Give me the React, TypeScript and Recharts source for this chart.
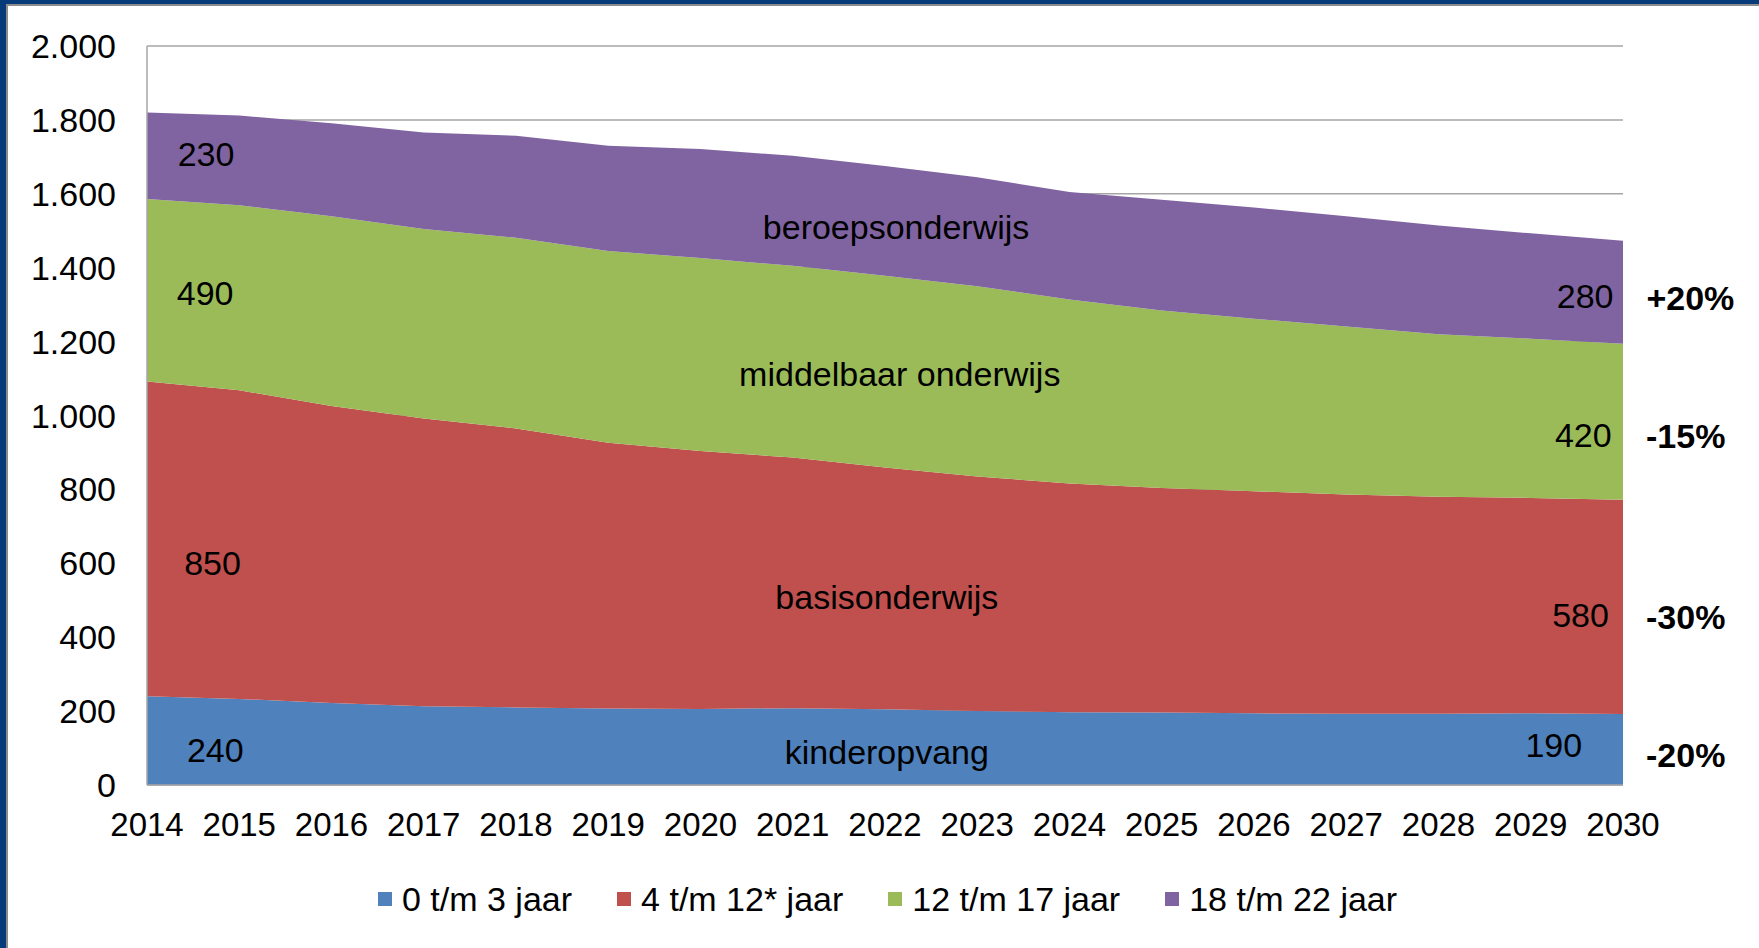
import React from 'react';
import { AreaChart, Area, XAxis, YAxis, CartesianGrid, ReferenceDot } from 'recharts';

const years = [2014, 2015, 2016, 2017, 2018, 2019, 2020, 2021, 2022, 2023, 2024, 2025, 2026, 2027, 2028, 2029, 2030];
const age0to3 = [240, 233, 222, 213, 210, 207, 206, 208, 205, 200, 197, 196, 194, 193, 193, 194, 192];
const age4to12 = [852, 835, 804, 779, 755, 719, 698, 678, 654, 635, 619, 608, 601, 593, 587, 583, 580];
const age12to17 = [494, 501, 513, 513, 516, 519, 522, 519, 519, 515, 498, 480, 467, 455, 440, 431, 422];
const age18to22 = [234, 243, 252, 261, 276, 285, 295, 298, 297, 295, 291, 300, 301, 298, 294, 285, 279];

const seriesKeys = ['a', 'b', 'c', 'd'];
const seriesNames = ['0 t/m 3 jaar', '4 t/m 12* jaar', '12 t/m 17 jaar', '18 t/m 22 jaar'];
const seriesColors = ['#4f81bd', '#c0504d', '#9bbb59', '#8064a2'];

const yTicks = [0, 200, 400, 600, 800, 1000, 1200, 1400, 1600, 1800, 2000];

// annotation anchors in data units (year, stacked value)
const valueLabels = [
  { text: '230', year: 2014.64, value: 1709 },
  { text: '490', year: 2014.63, value: 1332 },
  { text: '850', year: 2014.71, value: 601 },
  { text: '240', year: 2014.74, value: 94 },
  { text: '280', year: 2029.59, value: 1323 },
  { text: '420', year: 2029.57, value: 947 },
  { text: '580', year: 2029.54, value: 461 },
  { text: '190', year: 2029.25, value: 109 },
];
const sectorLabels = [
  { text: 'beroepsonderwijs', year: 2022.12, value: 1511 },
  { text: 'middelbaar onderwijs', year: 2022.16, value: 1111 },
  { text: 'basisonderwijs', year: 2022.02, value: 510 },
  { text: 'kinderopvang', year: 2022.02, value: 88 },
];
const changeLabels = [
  { text: '+20%', year: 2030.73, value: 1317 },
  { text: '-15%', year: 2030.68, value: 944 },
  { text: '-30%', year: 2030.68, value: 455 },
  { text: '-20%', year: 2030.68, value: 82 },
];

const FONT = '"Liberation Sans", Arial, Helvetica, sans-serif';

const data = years.map((y, i) => ({
  year: y,
  a: age0to3[i],
  b: age4to12[i],
  c: age12to17[i],
  d: age18to22[i],
}));

const fmt = (v: number) => {
  const s = String(v);
  if (s.length > 3) return s.slice(0, s.length - 3) + '.' + s.slice(s.length - 3);
  return s;
};

const textShape = (text: string, bold = false, size = 34) => (p: any) => (
  <text
    x={p.cx}
    y={p.cy}
    textAnchor="middle"
    dominantBaseline="central"
    fontFamily={FONT}
    fontSize={size}
    fontWeight={bold ? 'bold' : 'normal'}
    fill="#000"
  >
    {text}
  </text>
);

export default function App() {
  return (
    <div style={{ position: 'absolute', left: 0, top: 0, width: 1759, height: 948, background: '#fff', overflow: 'hidden' }}>
      <AreaChart
        width={1759}
        height={948}
        data={data}
        margin={{ top: 46, right: 136, bottom: 0, left: 0 }}
      >
        <CartesianGrid vertical={false} stroke="#a6a6a6" strokeWidth={1.5} />
        <XAxis
          dataKey="year"
          type="number"
          domain={[2014, 2030]}
          ticks={years}
          interval={0}
          height={163}
          tickSize={0}
          tickMargin={28}
          axisLine={{ stroke: '#a6a6a6', strokeWidth: 1.5 }}
          tickLine={false}
          tick={{ fontSize: 33, fill: '#000', fontFamily: FONT }}
        />
        <YAxis
          type="number"
          domain={[0, 2000]}
          ticks={yTicks}
          interval={0}
          width={147}
          tickSize={0}
          tickMargin={31}
          axisLine={{ stroke: '#a6a6a6', strokeWidth: 1.5 }}
          tickLine={false}
          tickFormatter={fmt}
          tick={{ fontSize: 34, fill: '#000', fontFamily: FONT }}
        />
        {seriesKeys.map((k, i) => (
          <Area
            key={k}
            type="linear"
            dataKey={k}
            stackId="1"
            name={seriesNames[i]}
            stroke="none"
            fill={seriesColors[i]}
            fillOpacity={1}
            isAnimationActive={false}
            dot={false}
            activeDot={false}
          />
        ))}
        {valueLabels.map((l) => (
          <ReferenceDot key={'v' + l.text + l.year} x={l.year} y={l.value} r={0} ifOverflow="visible" shape={textShape(l.text)} />
        ))}
        {sectorLabels.map((l) => (
          <ReferenceDot key={'s' + l.text} x={l.year} y={l.value} r={0} ifOverflow="visible" shape={textShape(l.text)} />
        ))}
        {changeLabels.map((l) => (
          <ReferenceDot key={'c' + l.text} x={l.year} y={l.value} r={0} ifOverflow="visible" shape={textShape(l.text, true)} />
        ))}
      </AreaChart>
      <div
        style={{
          position: 'absolute',
          left: 378,
          top: 879,
          height: 40,
          display: 'flex',
          alignItems: 'center',
          fontFamily: FONT,
          fontSize: 34,
          color: '#000',
          whiteSpace: 'nowrap',
        }}
      >
        {seriesNames.map((n, i) => (
          <div key={n} style={{ display: 'flex', alignItems: 'center', marginRight: 45 }}>
            <div style={{ width: 14, height: 14, background: seriesColors[i], marginRight: 10 }} />
            <span>{n}</span>
          </div>
        ))}
      </div>
      <div style={{ position: 'absolute', left: 0, top: 0, width: 6, height: 948, background: '#063a78' }} />
      <div style={{ position: 'absolute', left: 6, top: 4, width: 2, height: 944, background: '#8c8c8c' }} />
      <div style={{ position: 'absolute', left: 0, top: 0, width: 1759, height: 4, background: '#063a78' }} />
      <div style={{ position: 'absolute', left: 6, top: 4, width: 1753, height: 2, background: '#8c8c8c' }} />
    </div>
  );
}
